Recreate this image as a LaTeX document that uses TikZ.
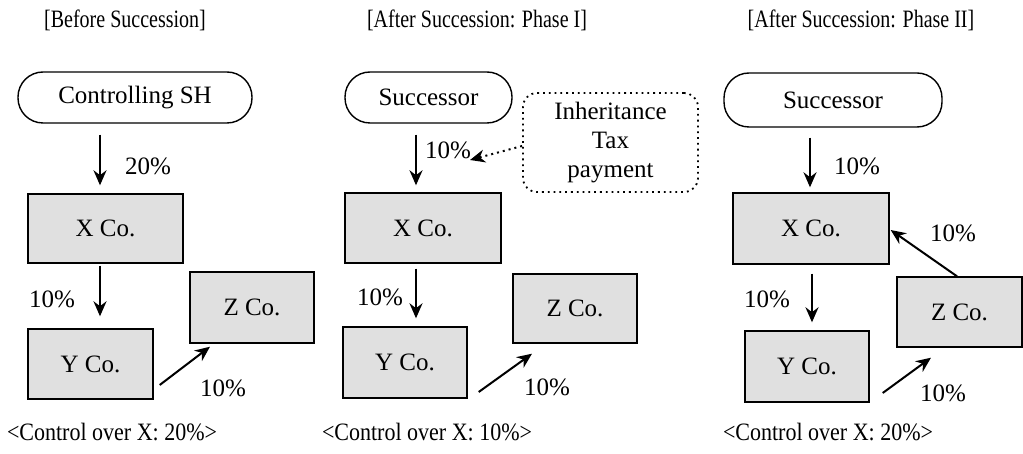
\documentclass[tikz,border=0pt]{standalone}
\usepackage{fontspec}
\setmainfont{Liberation Serif}
\usetikzlibrary{arrows.meta}
\definecolor{boxgray}{RGB}{224,224,224}
\tikzset{
  firm/.style={draw, line width=0.7pt, fill=boxgray, inner sep=0pt, font=\fontsize{12.5}{15}\selectfont},
  owner/.style={draw, line width=0.7pt, rounded corners=12.5pt, inner sep=0pt, font=\fontsize{12.5}{15}\selectfont},
  taxbox/.style={draw, dotted, line width=0.9pt, rounded corners=7pt, inner sep=0pt, align=center, font=\fontsize{12.5}{14.5}\selectfont},
  pct/.style={font=\fontsize{12.5}{15}\selectfont, inner sep=0pt},
  title/.style={font=\fontsize{12.5}{15}\selectfont, inner sep=0pt, xscale=0.8},
  result/.style={font=\fontsize{12.5}{15}\selectfont, inner sep=0pt, xscale=0.88}
}
\begin{document}
\begin{tikzpicture}[x=0.5pt, y=-0.5pt, >={Stealth[length=7.5pt,width=6.5pt]}]
  \useasboundingbox (0,0) rectangle (1023,454);
  % titles and results
  \node[title] (t1) at (125,20) {[Before Succession]};
  \node[title] (t2) at (477,20) {[After Succession: Phase I]};
  \node[title] (t3) at (861,20) {[After Succession: Phase II]};
  \node[result] (r1) at (112,432) {<Control over X: 20\%>};
  \node[result] (r2) at (427,432) {<Control over X: 10\%>};
  \node[result] (r3) at (828,432) {<Control over X: 20\%>};
  % before succession
  \node[owner, minimum width=117pt, minimum height=25.5pt] (sh1) at (135,97.5) {Controlling SH};
  \node[firm, minimum width=77.5pt, minimum height=34.5pt] (x1) at (105.5,228.5) {X Co.};
  \node[firm, minimum width=62.5pt, minimum height=35pt] (y1) at (90.5,364) {Y Co.};
  \node[firm, minimum width=62pt, minimum height=35.5pt] (z1) at (252,307.5) {Z Co.};
  \draw[->, line width=1pt] ([shift={(-35,11)}]sh1.south) -- ([shift={(-5.5,-8)}]x1.north);
  \draw[->, line width=1pt] ([shift={(-5.5,2)}]x1.south) -- ([shift={(9.5,-12)}]y1.north);
  \draw[->, line width=1pt] ([shift={(6,21)}]y1.east) -- ([shift={(-42,3)}]z1.south);
  \node[pct] (p11) at (148,166) {20\%};
  \node[pct] (p12) at (52,299) {10\%};
  \node[pct] (p13) at (223,388) {10\%};
  % after succession: phase I
  \node[owner, minimum width=83.5pt, minimum height=25.5pt] (sh2) at (428.5,97.5) {Successor};
  \node[taxbox, minimum width=87.5pt, minimum height=49.5pt] (tax) at (610.5,142.5) {Inheritance\\Tax\\payment};
  \node[firm, minimum width=78pt, minimum height=35pt] (x2) at (423,228) {X Co.};
  \node[firm, minimum width=62pt, minimum height=35.5pt] (y2) at (405,362.5) {Y Co.};
  \node[firm, minimum width=62pt, minimum height=34.5pt] (z2) at (575,308.5) {Z Co.};
  \draw[->, line width=1pt] ([shift={(-12.5,11)}]sh2.south) -- ([shift={(-7,-7)}]x2.north);
  \draw[->, line width=1pt] ([shift={(-7,5)}]x2.south) -- ([shift={(11,-8)}]y2.north);
  \draw[->, line width=1pt] ([shift={(11,29.5)}]y2.east) -- ([shift={(-43,10)}]z2.south);
  \draw[->, dotted, line width=1pt] ([shift={(0,3.5)}]tax.west) -- (470,160);
  \node[pct] (p21) at (448,150) {10\%};
  \node[pct] (p22) at (380,297) {10\%};
  \node[pct] (p23) at (547,387) {10\%};
  % after succession: phase II
  \node[owner, minimum width=109pt, minimum height=27pt] (sh3) at (833,100) {Successor};
  \node[firm, minimum width=78pt, minimum height=35.5pt] (x3) at (811,228.5) {X Co.};
  \node[firm, minimum width=62pt, minimum height=35.5pt] (y3) at (807,366.5) {Y Co.};
  \node[firm, minimum width=62.5pt, minimum height=35pt] (z3) at (959.5,312) {Z Co.};
  \draw[->, line width=1pt] ([shift={(-23,10)}]sh3.south) -- ([shift={(-1,-5)}]x3.north);
  \draw[->, line width=1pt] ([shift={(1,9)}]x3.south) -- ([shift={(5,-8)}]y3.north);
  \draw[->, line width=1pt] ([shift={(-2.5,0)}]z3.north) -- ([shift={(1,1.5)}]x3.east);
  \draw[->, line width=1pt] ([shift={(13,26.5)}]y3.east) -- ([shift={(-28.5,10)}]z3.south);
  \node[pct] (p31) at (857,166) {10\%};
  \node[pct] (p32) at (767,299) {10\%};
  \node[pct] (p33) at (953,233) {10\%};
  \node[pct] (p34) at (943,393) {10\%};
\end{tikzpicture}
\end{document}
